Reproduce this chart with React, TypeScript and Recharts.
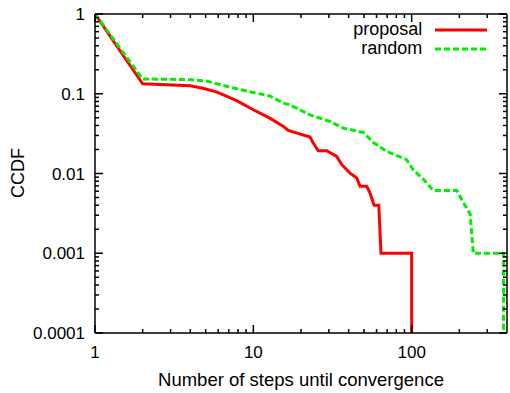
import React from "react";
import { LineChart, Line, XAxis, YAxis } from "recharts";

// tick labels
const xMajor = [1, 10, 100];
const xMajorLabels = ["1", "10", "100"];
const yMajor = [0.0001, 0.001, 0.01, 0.1, 1];
const yMajorLabels = ["0.0001", "0.001", "0.01", "0.1", "1"];

// series: steps until convergence vs CCDF
const proposalSteps = [1, 2, 4, 4.8, 5.9, 7.9, 10, 12.7, 15.5, 16.6, 22.8, 23.9, 25.7, 29.1, 33.6, 36.2, 40.8, 45, 47.2, 52, 54.6, 57.9, 62, 64, 100, 100];
const proposalCcdf = [1, 0.133, 0.126, 0.117, 0.105, 0.0815, 0.063, 0.0495, 0.0389, 0.0346, 0.0286, 0.0241, 0.0193, 0.0193, 0.0164, 0.0129, 0.0101, 0.0088, 0.0069, 0.0069, 0.0057, 0.004, 0.004, 0.001, 0.001, 0.0001];

const randomSteps = [1, 2, 3, 4, 5.1, 7.1, 10, 12.7, 15.5, 17, 22.8, 30.5, 37, 49.5, 57.3, 69.6, 93, 102, 119, 137, 193, 207, 234, 245, 380, 380];
const randomCcdf = [1, 0.153, 0.152, 0.15, 0.144, 0.121, 0.1035, 0.094, 0.0763, 0.0727, 0.0544, 0.0449, 0.0371, 0.0327, 0.0245, 0.0189, 0.0149, 0.0112, 0.0084, 0.0061, 0.0061, 0.0047, 0.0031, 0.001, 0.001, 0.0001];

const proposalData = proposalSteps.map((x, i) => ({ x, y: proposalCcdf[i] }));
const randomData = randomSteps.map((x, i) => ({ x, y: randomCcdf[i] }));

const X_MAX = 400;
const MINOR = [2, 3, 4, 5, 6, 7, 8, 9];
const xTicks = [...xMajor, ...xMajor.flatMap((d) => MINOR.map((k) => d * k))].filter((v) => v < X_MAX).sort((a, b) => a - b);
const yTicks = [...yMajor, ...yMajor.slice(0, -1).flatMap((d) => MINOR.map((k) => d * k))].sort((a, b) => a - b);

const FONT = "'Liberation Sans', Arial, Helvetica, sans-serif";
const isMajor = (v: number) => Math.abs(Math.log10(v) - Math.round(Math.log10(v))) < 1e-6;
const majorIndex = (arr: number[], v: number) => arr.findIndex((m) => Math.abs(m - v) / m < 1e-6);

const renderXTick = (side: "top" | "bottom") => (p: any) => {
  const v = Number(p.payload.value);
  const len = isMajor(v) ? 8 : 4;
  const idx = majorIndex(xMajor, v);
  const top = side === "bottom" ? p.y - len : p.y;
  return (
    <g key={`x-${side}-${v}`}>
      <rect x={p.x - 0.75} y={top} width={1.5} height={len} fill="#000" />
      {side === "bottom" && idx >= 0 && (
        <text x={p.x} y={p.y + 25} textAnchor="middle" fontSize={17} fontFamily={FONT} fill="#000">
          {xMajorLabels[idx]}
        </text>
      )}
    </g>
  );
};

const renderYTick = (side: "left" | "right") => (p: any) => {
  const v = Number(p.payload.value);
  const len = isMajor(v) ? 8 : 4;
  const idx = majorIndex(yMajor, v);
  const left = side === "left" ? p.x : p.x - len;
  return (
    <g key={`y-${side}-${v}`}>
      <rect x={left} y={p.y - 0.75} width={len} height={1.5} fill="#000" />
      {side === "left" && idx >= 0 && (
        <text x={p.x - 10} y={p.y + 6} textAnchor="end" fontSize={17} fontFamily={FONT} fill="#000">
          {yMajorLabels[idx]}
        </text>
      )}
    </g>
  );
};

const axisLine = { stroke: "#000", strokeWidth: 1.5 };

export default function App() {
  return (
    <div style={{ position: "absolute", left: 0, top: 0, width: 510, height: 393, background: "#fff" }}>
      <LineChart width={510} height={393} margin={{ top: 13, right: 0, bottom: 0, left: 0 }}>
        <XAxis
          xAxisId="b"
          type="number"
          dataKey="x"
          scale="log"
          domain={[1, X_MAX]}
          allowDataOverflow
          ticks={xTicks}
          interval={0}
          height={60}
          tickSize={0}
          tickMargin={0}
          tickLine={false}
          axisLine={axisLine}
          tick={renderXTick("bottom")}
          label={{
            content: () => (
              <text x={301} y={386} textAnchor="middle" fontSize={18.5} fontFamily={FONT} fill="#000">
                Number of steps until convergence
              </text>
            ),
          }}
        />
        <XAxis
          xAxisId="t"
          orientation="top"
          type="number"
          dataKey="x"
          scale="log"
          domain={[1, X_MAX]}
          allowDataOverflow
          ticks={xTicks}
          interval={0}
          height={1}
          tickSize={0}
          tickMargin={0}
          tickLine={false}
          axisLine={axisLine}
          tick={renderXTick("top")}
        />
        <YAxis
          yAxisId="l"
          type="number"
          scale="log"
          domain={[0.0001, 1]}
          allowDataOverflow
          ticks={yTicks}
          interval={0}
          width={95}
          tickSize={0}
          tickMargin={0}
          tickLine={false}
          axisLine={axisLine}
          tick={renderYTick("left")}
          label={{
            content: () => (
              <text
                x={24}
                y={173}
                textAnchor="middle"
                fontSize={18}
                fontFamily={FONT}
                fill="#000"
                transform="rotate(-90 24 173)"
              >
                CCDF
              </text>
            ),
          }}
        />
        <YAxis
          yAxisId="r"
          orientation="right"
          type="number"
          scale="log"
          domain={[0.0001, 1]}
          allowDataOverflow
          ticks={yTicks}
          interval={0}
          width={3}
          tickSize={0}
          tickMargin={0}
          tickLine={false}
          axisLine={axisLine}
          tick={renderYTick("right")}
        />
        <Line
          xAxisId="b"
          yAxisId="l"
          data={proposalData}
          dataKey="y"
          type="linear"
          stroke="#ff0000"
          strokeWidth={3}
          dot={false}
          isAnimationActive={false}
        />
        <Line
          xAxisId="b"
          yAxisId="l"
          data={randomData}
          dataKey="y"
          type="linear"
          stroke="#00ee00"
          strokeWidth={3}
          strokeDasharray="6 3"
          dot={false}
          isAnimationActive={false}
        />
      </LineChart>
      <div style={{ position: "absolute", left: 300, top: 20, width: 200, fontFamily: FONT, fontSize: 18, lineHeight: "19px" }}>
        {[
          { name: "proposal", color: "#ff0000", dash: undefined },
          { name: "random", color: "#00ee00", dash: "6 3" },
        ].map((s) => (
          <div key={s.name} style={{ display: "flex", alignItems: "center", height: 19 }}>
            <span style={{ width: 123, textAlign: "right" }}>{s.name}</span>
            <svg width={65} height={19} style={{ marginLeft: 13 }}>
              <line x1={0} y1={10} x2={52} y2={10} stroke={s.color} strokeWidth={3} strokeDasharray={s.dash} />
            </svg>
          </div>
        ))}
      </div>
    </div>
  );
}
